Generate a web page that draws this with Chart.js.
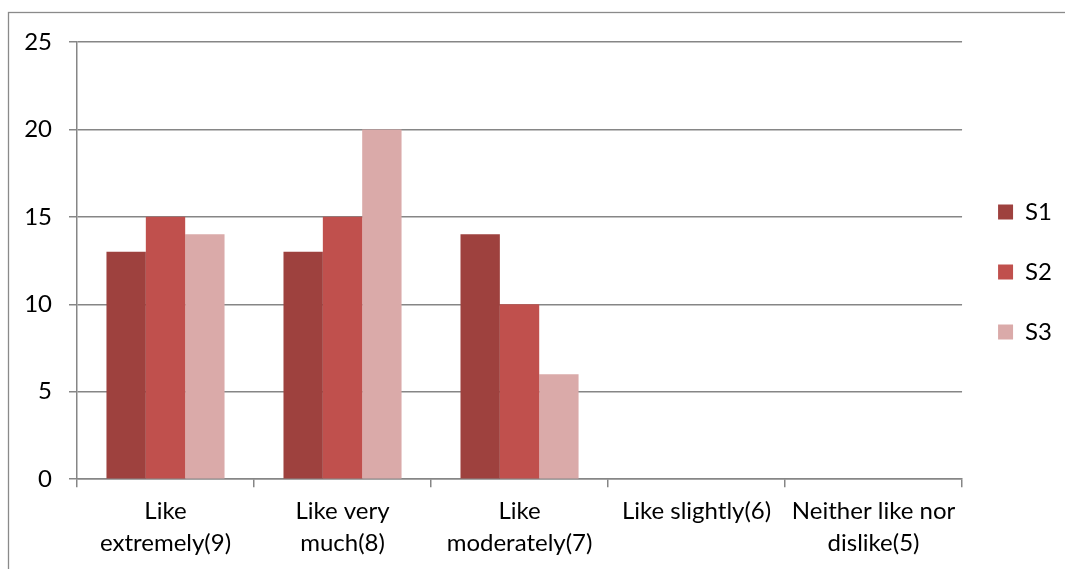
<!DOCTYPE html>
<html>
<head>
<meta charset="utf-8">
<script src="https://cdn.jsdelivr.net/npm/chart.js@4.4.1/dist/chart.umd.min.js"></script>
<style>
  html, body { margin: 0; padding: 0; background: #ffffff; }
  #wrap { width: 1065px; height: 569px; position: relative; }
</style>
</head>
<body>
<div id="wrap"><canvas id="c" width="1065" height="569"></canvas></div>
<script>
// Hedonic rating categories and the count of panellists per sample
const categories = [
  ['Like', 'extremely(9)'],
  ['Like very', 'much(8)'],
  ['Like', 'moderately(7)'],
  'Like slightly(6)',
  ['Neither like nor', 'dislike(5)']
];
const s1Values = [13, 13, 14, 0, 0];
const s2Values = [15, 15, 10, 0, 0];
const s3Values = [14, 20, 6, 0, 0];
const yTicks = [0, 5, 10, 15, 20, 25];

const FONT = 'Lato, "Open Sans", sans-serif';
const GRID = '#868686';

// white page with a thin grey frame around the chart
const framePlugin = {
  id: 'frame',
  beforeDraw(chart) {
    const ctx = chart.ctx;
    ctx.save();
    ctx.fillStyle = '#ffffff';
    ctx.fillRect(0, 0, chart.width, chart.height);
    ctx.strokeStyle = '#8a8a8a';
    ctx.lineWidth = 1.3;
    ctx.strokeRect(8.5, 12.5, chart.width + 20, chart.height + 20);
    ctx.restore();
  }
};

const series = [
  { label: 'S1', data: s1Values, color: '#9e413e' },
  { label: 'S2', data: s2Values, color: '#c0504d' },
  { label: 'S3', data: s3Values, color: '#daaaa9' }
];

new Chart(document.getElementById('c'), {
  type: 'bar',
  data: {
    labels: categories,
    datasets: series.map(s => ({
      label: s.label,
      data: s.data,
      backgroundColor: s.color,
      borderColor: s.color,
      borderWidth: 0,
      categoryPercentage: 0.667,
      barPercentage: 1.0
    }))
  },
  plugins: [framePlugin],
  options: {
    responsive: false,
    animation: false,
    layout: { padding: { left: 0, right: 3, top: 42, bottom: 2 } },
    plugins: {
      tooltip: { enabled: false },
      legend: {
        position: 'right',
        align: 'start',
        maxWidth: 103,
        // empty title block used as top spacing for the key
        title: {
          display: true,
          text: '',
          font: { size: 10, lineHeight: 1 },
          padding: { top: 56, bottom: 56 }
        },
        labels: {
          boxWidth: 15,
          boxHeight: 15,
          padding: 36,
          color: '#000000',
          font: { family: FONT, size: 24 }
        }
      }
    },
    scales: {
      x: {
        grid: {
          display: true,
          drawOnChartArea: false,
          drawTicks: true,
          tickLength: 8,
          color: GRID,
          lineWidth: 1.5
        },
        border: { display: true, color: GRID, width: 1.5 },
        ticks: {
          color: '#000000',
          font: { family: FONT, size: 24, lineHeight: 1.33 },
          padding: 8,
          maxRotation: 0,
          minRotation: 0,
          autoSkip: false
        }
      },
      y: {
        min: 0,
        max: 25,
        afterBuildTicks(scale) { scale.ticks = yTicks.map(v => ({ value: v })); },
        grid: {
          color: GRID,
          lineWidth: 1.5,
          drawTicks: true,
          tickLength: 8
        },
        border: { display: true, color: GRID, width: 1.5 },
        ticks: {
          color: '#000000',
          font: { family: FONT, size: 24 },
          padding: 17
        },
        afterFit(scale) { scale.width = 77; }
      }
    }
  }
});
</script>
</body>
</html>
